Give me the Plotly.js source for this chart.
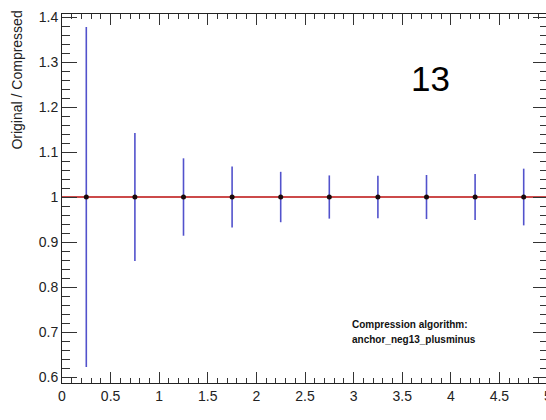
<!DOCTYPE html>
<html>
<head>
<meta charset="utf-8">
<script src="https://cdn.plot.ly/plotly-3.0.1.min.js"></script>
<style>
html, body { margin: 0; padding: 0; overflow: hidden; background: #fff; }
#chart { width: 550px; height: 420px; }
</style>
</head>
<body>
<div id="chart"></div>
<script>
// Data
const binCenters = [0.25, 0.75, 1.25, 1.75, 2.25, 2.75, 3.25, 3.75, 4.25, 4.75];
const ratios     = [1, 1, 1, 1, 1, 1, 1, 1, 1, 1];
const ratioErrs  = [0.378, 0.142, 0.086, 0.068, 0.056, 0.048, 0.047, 0.049, 0.051, 0.063];
const refLineX   = [0, 5];
const refLineY   = [1, 1];
const yTitle     = "Original / Compressed";
const bigLabel   = "13";
const infoLines  = ["Compression algorithm:", "anchor_neg13_plusminus"];

const FONT = "Liberation Sans, Arial, Helvetica, sans-serif";

const traces = [
  {
    x: binCenters, y: ratios, type: "scatter", mode: "markers",
    marker: { size: 1, color: "rgba(0,0,0,0)" },
    error_y: { type: "data", array: ratioErrs, symmetric: true, visible: true,
               width: 0, thickness: 1.6, color: "#5252cc" },
    hoverinfo: "skip", showlegend: false
  },
  {
    x: refLineX, y: refLineY, type: "scatter", mode: "lines",
    line: { color: "#cc4a4a", width: 1.8 },
    hoverinfo: "skip", showlegend: false
  },
  {
    x: binCenters, y: ratios, type: "scatter", mode: "markers",
    marker: { size: 5, color: "#1a0a0a" },
    showlegend: false
  }
];

const axisCommon = {
  showline: true, linecolor: "#222", linewidth: 1,
  ticks: "inside", tickcolor: "#333", tickwidth: 1,
  mirror: "allticks", showgrid: false, zeroline: false,
  ticklabeloverflow: "allow",
  tickfont: { family: FONT, size: 14, color: "#222" }
};

const layout = {
  width: 550, height: 420,
  margin: { l: 62, r: 2, t: 14, b: 37 },
  paper_bgcolor: "#fff", plot_bgcolor: "#fff",
  xaxis: Object.assign({}, axisCommon, {
    range: [0, 5], dtick: 0.5, tick0: 0, ticklen: 11,
    minor: { ticks: "inside", ticklen: 5, dtick: 0.1, tickcolor: "#333", showgrid: false }
  }),
  yaxis: Object.assign({}, axisCommon, {
    range: [0.5867, 1.4067], dtick: 0.1, tick0: 0, ticklen: 15,
    minor: { ticks: "inside", ticklen: 8, dtick: 0.02, tickcolor: "#333", showgrid: false }
  }),
  annotations: [
    { text: yTitle, xref: "paper", yref: "paper", x: -0.0926, y: 1.016,
      xanchor: "center", yanchor: "top", textangle: -90, showarrow: false,
      font: { family: FONT, size: 14, color: "#222" } },
    { text: bigLabel, xref: "x", yref: "y", x: 3.796, y: 1.264,
      xanchor: "center", yanchor: "middle", showarrow: false,
      font: { family: FONT, size: 35, color: "#000" } },
    { text: "<b>" + infoLines[0] + "</b>", xref: "x", yref: "y", x: 2.963, y: 0.716,
      xanchor: "left", yanchor: "middle", showarrow: false,
      font: { family: FONT, size: 10, color: "#111" } },
    { text: "<b>" + infoLines[1] + "</b>", xref: "x", yref: "y", x: 2.963, y: 0.683,
      xanchor: "left", yanchor: "middle", showarrow: false,
      font: { family: FONT, size: 10, color: "#111" } }
  ]
};

Plotly.newPlot("chart", traces, layout, { displayModeBar: false, staticPlot: true });
</script>
</body>
</html>
